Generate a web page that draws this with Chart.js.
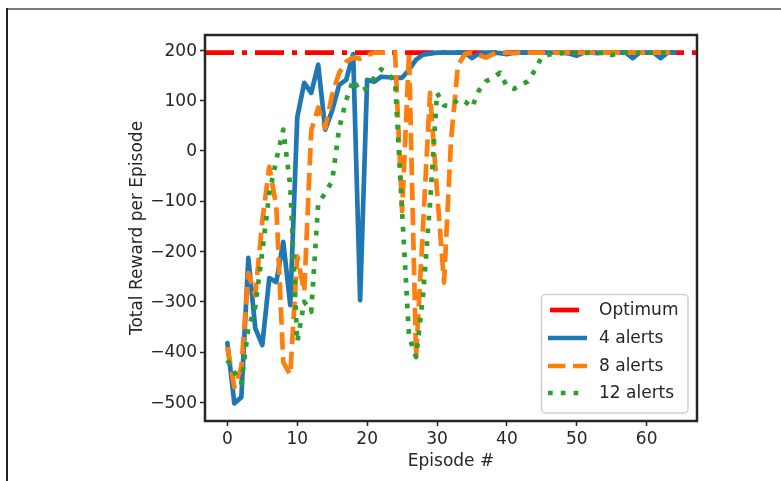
<!DOCTYPE html>
<html><head><meta charset="utf-8">
<script src="https://cdn.jsdelivr.net/npm/chart.js@4.4.0/dist/chart.umd.min.js"></script>
<style>html,body{margin:0;padding:0;background:#fff;} #wrap{width:781px;height:481px;position:relative;}</style>
</head><body><div id="wrap"><canvas id="c" width="781" height="481"></canvas></div>
<script>
// ---------- data ----------
const episodes = [0,1,2,3,4,5,6,7,8,9,10,11,12,13,14,15,16,17,18,19,20,21,22,23,24,25,26,27,28,29,30,31,32,33,34,35,36,37,38,39,40,41,42,43,44,45,46,47,48,49,50,51,52,53,54,55,56,57,58,59,60,61,62,63,64];
const optimumValue = 195;
const alerts4 = [-382,-502,-490,-213,-353,-386,-253,-261,-181,-307,66,135,115,171,42,80,131,141,192,-297,141,137,147,146,145,145,161,181,191,193,195,195,195,195,195,184,193,195,195,194,192,195,195,195,195,195,195,195,195,193,189,195,195,194,195,195,195,195,184,195,195,195,184,195,195];
const alerts8 = [-390,-470,-430,-243,-287,-140,-32,-110,-420,-445,-210,-280,40,86,45,112,155,177,185,183,190,195,195,195,195,-120,195,-410,-150,115,-80,-262,20,170,192,195,190,185,192,195,195,194,195,195,195,195,195,195,195,195,195,195,195,195,195,195,195,195,195,195,195,195,195,195,195];
const alerts12 = [-416,-440,-462,-352,-310,-200,-85,-18,42,-70,-380,-300,-320,-105,-84,-60,45,100,141,118,125,145,162,152,138,-120,-370,-410,-287,-104,115,90,88,102,98,86,120,138,145,155,128,123,131,138,160,187,191,193,194,195,195,194,195,195,195,190,195,195,194,195,195,195,195,195,195];
const seriesNames = ['Optimum','4 alerts','8 alerts','12 alerts'];
const xTicks = [0,10,20,30,40,50,60];
const yTicks = [-500,-400,-300,-200,-100,0,100,200];
const xLimits = [-3.2, 67.2];
const yLimits = [-537, 230];

// ---------- style ----------
const FONT = 'DejaVu Sans';
const TXT = '#262626';
const colors = ['#ff0000','#1f77b4','#ff7f0e','#2ca02c'];
const dashes = [[29,8,5,8],[],[17.5,7.5],[4.7,8.1]];
const LW = 4.7;

const pts = (ys) => episodes.map((e,i)=>({x:e, y:ys[i]}));
const optimumPts = [{x:xLimits[0], y:optimumValue},{x:xLimits[1], y:optimumValue}];

const outerFrame = {
  id:'outerFrame',
  beforeDraw(chart){
    const ctx = chart.ctx;
    ctx.save();
    ctx.fillStyle = '#fff'; ctx.fillRect(0,0,chart.width,chart.height);
    ctx.fillStyle = '#7a7a7a'; ctx.fillRect(7,8,chart.width-7,2);
    ctx.fillStyle = '#222'; ctx.fillRect(6,8,2,chart.height-8);
    ctx.restore();
  }
};
const axesFrame = {
  id:'axesFrame',
  afterDatasetsDraw(chart){
    const {ctx, chartArea:a} = chart;
    ctx.save();
    ctx.strokeStyle = '#262626'; ctx.lineWidth = 2.5;
    ctx.strokeRect(a.left, a.top, a.right-a.left, a.bottom-a.top);
    ctx.restore();
  }
};
const innerLegend = {
  id:'innerLegend',
  afterDraw(chart){
    const ctx = chart.ctx;
    const bx = 541.5, by = 294.5, bw = 146.5, bh = 118.5, r = 4;
    ctx.save();
    ctx.beginPath();
    ctx.moveTo(bx+r,by); ctx.lineTo(bx+bw-r,by); ctx.arcTo(bx+bw,by,bx+bw,by+r,r);
    ctx.lineTo(bx+bw,by+bh-r); ctx.arcTo(bx+bw,by+bh,bx+bw-r,by+bh,r);
    ctx.lineTo(bx+r,by+bh); ctx.arcTo(bx,by+bh,bx,by+bh-r,r);
    ctx.lineTo(bx,by+r); ctx.arcTo(bx,by,bx+r,by,r); ctx.closePath();
    ctx.fillStyle = 'rgba(255,255,255,0.85)'; ctx.fill();
    ctx.strokeStyle = '#d0d0d0'; ctx.lineWidth = 1.5; ctx.stroke();
    ctx.font = '17px "' + FONT + '"';
    ctx.textBaseline = 'middle';
    ctx.fillStyle = TXT;
    const rowY = [310, 338, 366, 393];
    const x0 = [550, 548, 548, 548], x1 = [580, 587, 587, 583];
    seriesNames.forEach((name,i)=>{
      const y = rowY[i];
      ctx.beginPath();
      ctx.setLineDash(dashes[i]);
      ctx.lineDashOffset = 0;
      ctx.lineCap = 'butt';
      ctx.strokeStyle = colors[i];
      ctx.lineWidth = LW;
      ctx.moveTo(x0[i], y); ctx.lineTo(x1[i], y);
      ctx.stroke();
      ctx.setLineDash([]);
      ctx.fillText(name, 599, y+1);
    });
    ctx.restore();
  }
};

const mk = (i, data, order) => ({
  label: seriesNames[i], data, borderColor: colors[i], backgroundColor: colors[i],
  borderWidth: LW, borderDash: dashes[i], borderCapStyle: i===1 ? 'round' : 'butt',
  borderJoinStyle: 'round', pointRadius: 0, tension: 0, fill: false, order
});

new Chart(document.getElementById('c'), {
  type: 'line',
  data: { datasets: [
    mk(0, optimumPts, 4),
    mk(1, pts(alerts4), 3),
    mk(2, pts(alerts8), 2),
    mk(3, pts(alerts12), 1)
  ]},
  options: {
    responsive: false, animation: false, devicePixelRatio: 1,
    layout: { padding: { left: 0, right: 84, top: 35, bottom: 0 } },
    plugins: { legend: { display: false }, tooltip: { enabled: false } },
    scales: {
      x: {
        type: 'linear', min: xLimits[0], max: xLimits[1],
        afterBuildTicks: s => { s.ticks = xTicks.map(v=>({value:v})); },
        afterFit: s => { s.height = 60; },
        ticks: { font: { family: FONT, size: 17 }, color: TXT, padding: 3, maxRotation: 0 },
        grid: { drawOnChartArea: false, drawTicks: true, tickLength: 5, tickWidth: 1.5, tickColor: '#262626' },
        border: { display: false },
        title: { display: true, text: 'Episode #', font: { family: FONT, size: 17 }, color: TXT, padding: { top: 0, bottom: 9 } }
      },
      y: {
        type: 'linear', min: yLimits[0], max: yLimits[1],
        afterBuildTicks: s => { s.ticks = yTicks.map(v=>({value:v})); },
        afterFit: s => { s.width = 205; },
        ticks: { font: { family: FONT, size: 17 }, color: TXT, padding: 3, labelOffset: 1,
          callback: v => v < 0 ? '\u2212' + Math.abs(v) : String(v) },
        grid: { drawOnChartArea: false, drawTicks: true, tickLength: 5, tickWidth: 1.5, tickColor: '#262626' },
        border: { display: false },
        title: { display: true, text: 'Total Reward per Episode', font: { family: FONT, size: 17 }, color: TXT, padding: { top: 127, bottom: 0 } }
      }
    }
  },
  plugins: [outerFrame, axesFrame, innerLegend]
});
</script>
</body></html>
